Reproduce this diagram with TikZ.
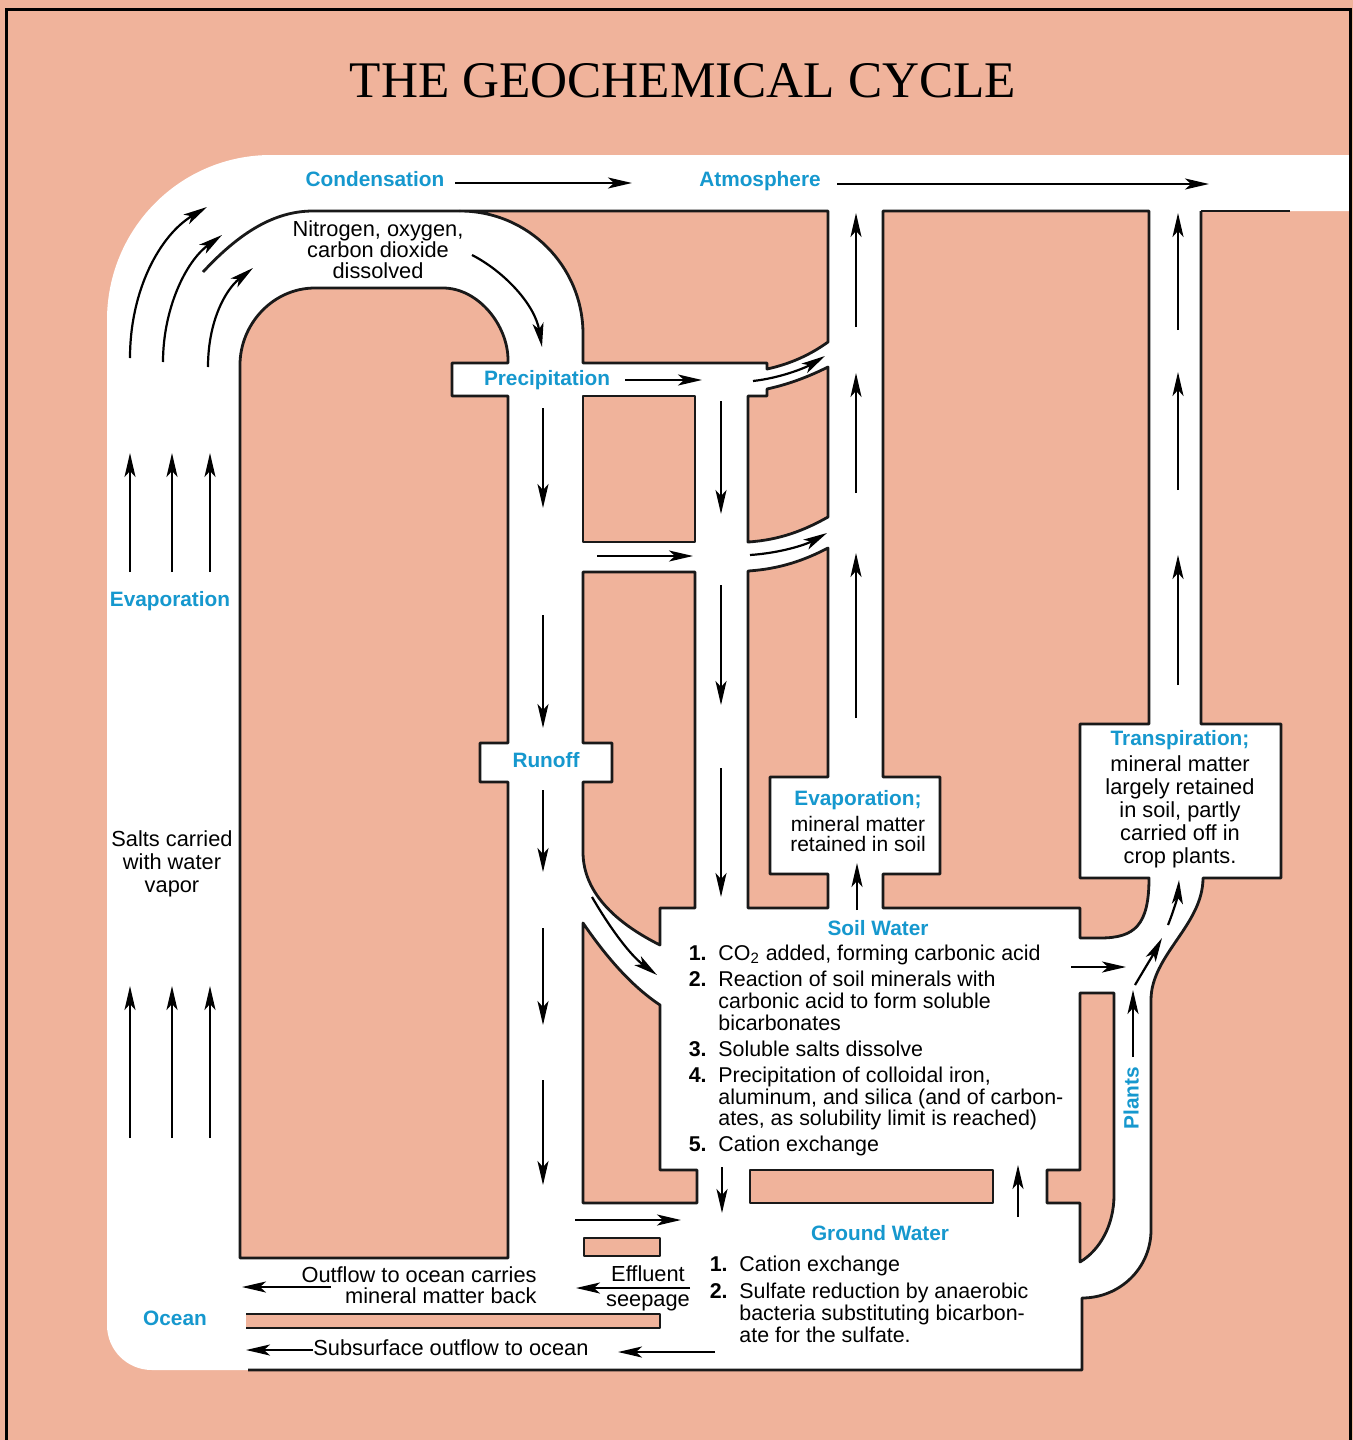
\documentclass[tikz,border=0pt]{standalone}
\usepackage{fontspec}
\setmainfont{Liberation Sans}
\newfontfamily\titlefont{Liberation Serif}
\usetikzlibrary{arrows.meta}
\definecolor{salmon}{RGB}{240,179,155}
\definecolor{lblue}{RGB}{22,152,206}
\tikzset{
  wall/.style={draw=black!90, line width=1.4pt, line join=round},
  isle/.style={fill=salmon, wall},
  flow/.style={-{Stealth[length=12pt,width=5.5pt,inset=3pt]}, line width=1.1pt},
  blab/.style={text=lblue, font=\bfseries\fontsize{10.4}{12}\selectfont, inner sep=0pt, text height=8pt, text depth=2.5pt},
  note/.style={font=\fontsize{10.9}{10.5}\selectfont, align=center, inner sep=0pt},
  line1/.style={font=\fontsize{10.9}{12}\selectfont, inner sep=0pt, text height=8pt, text depth=2.5pt},
  item/.style={font=\fontsize{10.7}{11}\selectfont, anchor=west, inner sep=0pt, text height=8pt, text depth=2.5pt},
  num/.style={font=\bfseries\fontsize{10.7}{11}\selectfont, anchor=east, inner sep=0pt, text height=8pt, text depth=2.5pt}
}
\begin{document}
\begin{tikzpicture}[x=0.5pt,y=-0.5pt]
\useasboundingbox (0,0) rectangle (1353,1440);
\fill[salmon] (0,0) rectangle (1353,1440);
% white channels
\fill[white] (1349,155) -- (1349,211) -- (1201,211) -- (1201,724) -- (1281,724) -- (1281,878) -- (1203,878)
  .. controls (1203,925) and (1151,955) .. (1151,1000) -- (1151,1230)
  .. controls (1151,1268) and (1120,1298) .. (1082,1298) -- (1082,1370) -- (152,1370)
  .. controls (127,1370) and (107,1350) .. (107,1325) -- (107,320)
  .. controls (107,229) and (180,155) .. (271,155) -- cycle;
% salmon islands
\path[isle] (240,1258) -- (240,365) .. controls (240,324) and (273,288) .. (315,288) -- (443,288)
  .. controls (478,288) and (508,325) .. (508,360) -- (508,363) -- (452,363) -- (452,396) -- (508,396)
  -- (508,743) -- (480,743) -- (480,782) -- (508,782) -- (508,1258) -- cycle;
\path[isle] (460,211) -- (828,211) -- (828,342) .. controls (810,355) and (790,364) .. (767,369)
  -- (767,363) -- (583,363) -- (583,334) .. controls (583,266) and (528,211) .. (460,211) -- cycle;
\path[isle] (583,396) rectangle (695,542);
\path[isle] (748,396) -- (767,396) -- (767,389) .. controls (790,384) and (810,376) .. (828,367)
  -- (828,517) .. controls (805,530) and (780,540) .. (748,542) -- cycle;
\path[isle] (583,572) -- (695,572) -- (695,908) -- (660,908) -- (660,945)
  .. controls (620,925) and (583,895) .. (583,852) -- (583,782) -- (612,782) -- (612,743) -- (583,743) -- cycle;
\path[isle] (748,571) .. controls (780,569) and (805,560) .. (828,548) -- (828,777) -- (770,777)
  -- (770,874) -- (828,874) -- (828,908) -- (748,908) -- cycle;
\path[isle] (883,211) -- (1149,211) -- (1149,724) -- (1080,724) -- (1080,878) -- (1149,878)
  .. controls (1149,925) and (1135,938) .. (1100,938) -- (1080,938) -- (1080,908) -- (883,908)
  -- (883,874) -- (940,874) -- (940,777) -- (883,777) -- cycle;
\path[isle] (583,923) .. controls (605,955) and (630,985) .. (660,1005) -- (660,1170) -- (697,1170)
  -- (697,1203) -- (583,1203) -- cycle;
\path[isle] (750,1170) rectangle (993,1203);
\path[isle] (1080,993) -- (1114,993) -- (1114,1195) .. controls (1114,1225) and (1100,1250) .. (1080,1262)
  -- (1080,1203) -- (1047,1203) -- (1047,1170) -- (1080,1170) -- cycle;
\path[isle] (584,1238) rectangle (660,1256);
\fill[salmon] (246,1314) rectangle (660,1328);
\draw[wall] (246,1314) -- (660,1314) -- (660,1328) -- (246,1328);
% outer walls
\draw[wall] (1201,211) -- (1290,211);
\draw[wall] (1201,211) -- (1201,724) -- (1281,724) -- (1281,878) -- (1203,878)
  .. controls (1203,925) and (1151,955) .. (1151,1000) -- (1151,1230)
  .. controls (1151,1268) and (1120,1298) .. (1082,1298) -- (1082,1370) -- (248,1370);
\draw[wall] (203,272) .. controls (240,232) and (275,211) .. (313,211) -- (460,211);
% frame
\draw[line width=1.5pt] (6,1440) -- (6,9) -- (1350,9) -- (1350,1440);
% title
\node[inner sep=0pt] (title) at (683,81) {\resizebox{333pt}{17pt}{\titlefont THE GEOCHEMICAL CYCLE}};
% top band
\node[blab] (cond) at (375,181) {Condensation};
\draw[flow] (455,183) -- (632,183);
\node[blab] (atm) at (760,181) {Atmosphere};
\draw[flow] (837,184) -- (1209,184);
% arch
\node[note] (nitro) at (378,250) {Nitrogen, oxygen,\\carbon dioxide\\dissolved};
\draw[flow] (472,255) .. controls (505,272) and (535,305) .. (542,347);
\draw[flow] (130,358) .. controls (130,290) and (160,235) .. (207,207);
\draw[flow] (163,362) .. controls (163,310) and (185,262) .. (222,235);
\draw[flow] (208,367) .. controls (208,322) and (225,290) .. (253,268);
% left column
\node[blab] (evapL) at (170,601) {Evaporation};
\foreach \x in {130,172,210} {
  \draw[flow] (\x,572) -- (\x,453);
  \draw[flow] (\x,1138) -- (\x,986);
}
\node[note, font=\fontsize{10.9}{11.5}\selectfont] (salts) at (172,864) {Salts carried\\with water\\vapor};
\node[blab] (ocean) at (175,1320) {Ocean};
% precipitation
\node[blab] (precip) at (547,380) {Precipitation};
\draw[flow] (625,380) -- (702,380);
\draw[flow] (753,381) .. controls (780,378) and (805,368) .. (825,356);
\draw[flow] (597,556) -- (693,556);
\draw[flow] (750,555) .. controls (780,553) and (805,545) .. (827,533);
% runoff column
\node[blab] (runoff) at (546,762) {Runoff};
\draw[flow] (543,408) -- (543,508);
\draw[flow] (543,615) -- (543,728);
\draw[flow] (543,790) -- (543,872);
\draw[flow] (543,928) -- (543,1025);
\draw[flow] (543,1080) -- (543,1185);
\draw[flow] (592,897) .. controls (610,928) and (630,955) .. (657,975);
% middle column
\draw[flow] (721,401) -- (721,514);
\draw[flow] (721,585) -- (721,705);
\draw[flow] (721,768) -- (721,897);
% atmosphere column
\draw[flow] (856,327) -- (856,213);
\draw[flow] (856,493) -- (856,373);
\draw[flow] (856,718) -- (856,553);
\node[blab] (evapS) at (858,800) {Evaporation;};
\node[note, font=\fontsize{10.5}{10}\selectfont] (evapSt) at (858,834) {mineral matter\\retained in soil};
\draw[flow] (857,910) -- (857,863);
% transpiration column
\draw[flow] (1178,330) -- (1178,213);
\draw[flow] (1178,490) -- (1178,372);
\draw[flow] (1178,685) -- (1178,555);
\node[blab] (transp) at (1180,740) {Transpiration;};
\node[note, font=\fontsize{10.9}{11.5}\selectfont] (transpt) at (1180,812) {mineral matter\\largely retained\\in soil, partly\\carried off in\\crop plants.};
\draw[flow] (1135,985) .. controls (1145,968) and (1153,955) .. (1162,938);
\draw[flow] (1168,925) .. controls (1174,910) and (1178,895) .. (1179,880);
\draw[flow] (1071,967) -- (1126,967);
\draw[flow] (1133,1057) -- (1133,990);
\node[blab, rotate=90] (plants) at (1133,1098) {Plants};
% soil water
\node[blab] (soil) at (878,930) {Soil Water};
\node[num] (n1) at (707,955) {1.};
\node[item] (s1) at (718,955) {CO\textsubscript{2} added, forming carbonic acid};
\node[num] (n2) at (707,981) {2.};
\node[item] (s2a) at (718,981) {Reaction of soil minerals with};
\node[item] (s2b) at (718,1003) {carbonic acid to form soluble};
\node[item] (s2c) at (718,1025) {bicarbonates};
\node[num] (n3) at (707,1051) {3.};
\node[item] (s3) at (718,1051) {Soluble salts dissolve};
\node[num] (n4) at (707,1077) {4.};
\node[item] (s4a) at (718,1077) {Precipitation of colloidal iron,};
\node[item] (s4b) at (718,1099) {aluminum, and silica (and of carbon-};
\node[item] (s4c) at (718,1120) {ates, as solubility limit is reached)};
\node[num] (n5) at (707,1146) {5.};
\node[item] (s5) at (718,1146) {Cation exchange};
% between soil and ground water
\draw[flow] (722,1167) -- (722,1213);
\draw[flow] (1018,1217) -- (1018,1165);
% ground water
\node[blab] (ground) at (880,1235) {Ground Water};
\node[num] (g1n) at (728,1266) {1.};
\node[item] (g1) at (739,1266) {Cation exchange};
\node[num] (g2n) at (728,1293) {2.};
\node[item] (g2a) at (739,1293) {Sulfate reduction by anaerobic};
\node[item] (g2b) at (739,1315) {bacteria substituting bicarbon-};
\node[item] (g2c) at (739,1337) {ate for the sulfate.};
% bottom channels
\draw[flow] (575,1220) -- (681,1220);
\node[note, font=\fontsize{10.9}{11.5}\selectfont] (eff) at (648,1288) {Effluent\\[1pt]seepage};
\draw[flow] (690,1288) -- (576,1288);
\node[note, align=right, anchor=east, font=\fontsize{10.9}{10.5}\selectfont] (outfl) at (537,1285) {Outflow to ocean carries\\mineral matter back};
\draw[flow] (331,1287) -- (242,1287);
\node[line1, anchor=west] (subs) at (313,1350) {Subsurface outflow to ocean};
\draw[flow] (subs.west) -- (246,1350);
\draw[flow] (715,1352) -- (618,1352);
\end{tikzpicture}
\end{document}
